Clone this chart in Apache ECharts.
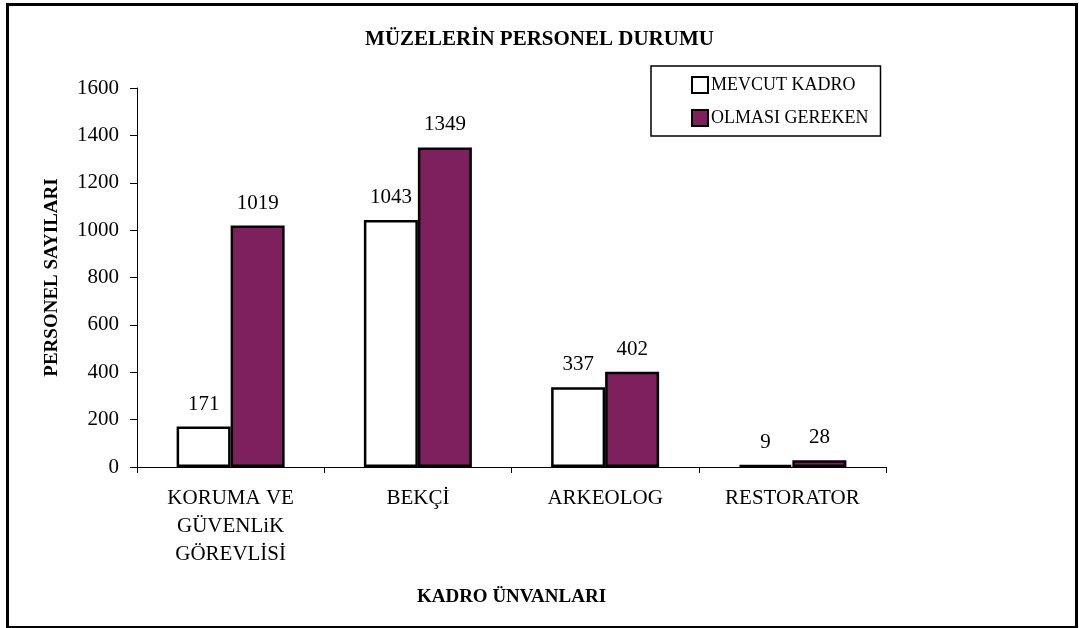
<!DOCTYPE html>
<html>
<head>
<meta charset="utf-8">
<script src="https://cdn.jsdelivr.net/npm/echarts@6/dist/echarts.min.js"></script>
<style>
html,body{margin:0;padding:0;background:#fff;}
#chart{width:1079px;height:628px;}
</style>
</head>
<body>
<div id="chart"></div>
<script>
const categories = ['KORUMA VE\nGÜVENLiK\nGÖREVLİSİ', 'BEKÇİ', 'ARKEOLOG', 'RESTORATOR'];
const seriesNames = ['MEVCUT KADRO', 'OLMASI GEREKEN'];
const mevcutKadro = [171, 1043, 337, 9];
const olmasiGereken = [1019, 1349, 402, 28];
const yTicks = { min: 0, max: 1600, interval: 200 };
const titleText = 'MÜZELERİN PERSONEL DURUMU';
const yAxisTitle = 'PERSONEL SAYILARI';
const xAxisTitle = 'KADRO ÜNVANLARI';

const FONT = "'Liberation Serif', 'Times New Roman', serif";
const chart = echarts.init(document.getElementById('chart'), null, { renderer: 'canvas' });

const labelStyle = {
  show: true, position: 'top', distance: 12,
  color: '#000', fontFamily: FONT, fontSize: 21
};

chart.setOption({
  animation: false,
  backgroundColor: '#fff',
  textStyle: { fontFamily: FONT, color: '#000' },
  title: {
    text: titleText, left: 'center', top: 24,
    textStyle: { fontFamily: FONT, fontSize: 21, fontWeight: 'bold', color: '#000' }
  },
  graphic: [{
    type: 'rect', left: 5, top: 2, silent: true,
    shape: { width: 1069, height: 623 },
    style: { fill: null, stroke: '#000', lineWidth: 3 }
  }],
  legend: {
    data: seriesNames, orient: 'vertical', left: 651, top: 66,
    padding: [10, 12, 9, 40], itemGap: 15, itemWidth: 16, itemHeight: 16,
    borderColor: '#000', borderWidth: 1.5, icon: 'rect',
    textStyle: { fontFamily: FONT, fontSize: 18, color: '#000', lineHeight: 18, padding: [0, 0, 0, -2] }
  },
  grid: { left: 137, right: 193, top: 88, bottom: 161, containLabel: false },
  xAxis: {
    type: 'category', data: categories,
    name: xAxisTitle, nameLocation: 'middle', nameGap: 121,
    nameTextStyle: { fontFamily: FONT, fontSize: 19, fontWeight: 'bold', color: '#000' },
    axisLine: { lineStyle: { color: '#000', width: 1 } },
    axisTick: { show: true, length: 6, lineStyle: { color: '#000' } },
    axisLabel: { color: '#000', fontFamily: FONT, fontSize: 21, lineHeight: 28, margin: 17 }
  },
  yAxis: {
    type: 'value', min: yTicks.min, max: yTicks.max, interval: yTicks.interval,
    name: yAxisTitle, nameLocation: 'middle', nameGap: 75, nameRotate: 90,
    nameTextStyle: { fontFamily: FONT, fontSize: 19, fontWeight: 'bold', color: '#000' },
    axisLine: { show: true, lineStyle: { color: '#000', width: 1 } },
    axisTick: { show: true, length: 7, lineStyle: { color: '#000' } },
    splitLine: { show: false },
    axisLabel: { color: '#000', fontFamily: FONT, fontSize: 21, margin: 18, formatter: v => String(v) }
  },
  series: [
    {
      name: seriesNames[0], type: 'bar', data: mevcutKadro,
      barWidth: 54, barGap: '0%',
      itemStyle: { color: '#ffffff', borderColor: '#000', borderWidth: 2.5 },
      label: labelStyle
    },
    {
      name: seriesNames[1], type: 'bar', data: olmasiGereken,
      barWidth: 54,
      itemStyle: { color: '#7E1F5E', borderColor: '#000', borderWidth: 2.5 },
      label: labelStyle
    }
  ]
});
</script>
</body>
</html>
